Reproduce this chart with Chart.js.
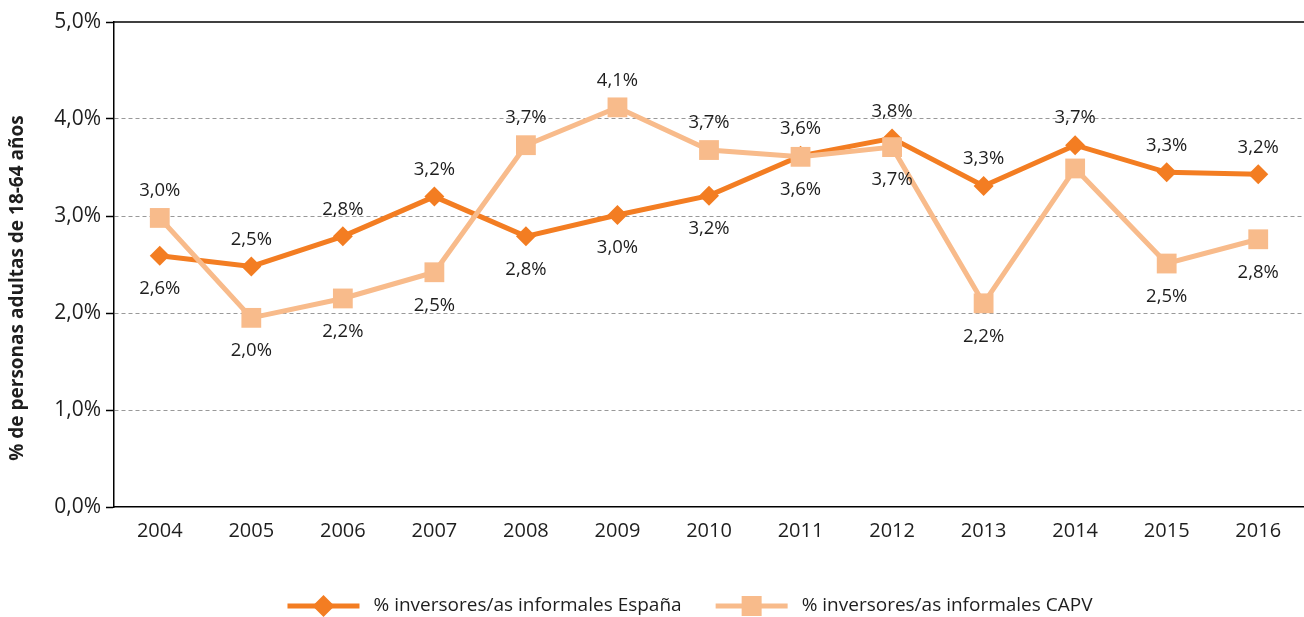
<!DOCTYPE html>
<html>
<head>
<meta charset="utf-8">
<script src="https://cdn.jsdelivr.net/npm/chart.js@4/dist/chart.umd.min.js"></script>
<style>
  html, body { margin: 0; padding: 0; background: #fff; overflow: hidden; }
  #wrap { width: 1304px; height: 617px; position: relative; }
  canvas { display: block; }
</style>
</head>
<body>
<div id="wrap"><canvas id="chart"></canvas></div>
<script>
// Data
const years = ['2004', '2005', '2006', '2007', '2008', '2009', '2010', '2011', '2012', '2013', '2014', '2015', '2016'];
const espana = [2.59, 2.48, 2.79, 3.20, 2.79, 3.01, 3.21, 3.62, 3.80, 3.31, 3.73, 3.45, 3.43];
const capv = [2.98, 1.95, 2.15, 2.42, 3.73, 4.12, 3.68, 3.61, 3.71, 2.10, 3.49, 2.51, 2.76];
const espanaLabels = ['2,6%', '2,5%', '2,8%', '3,2%', '2,8%', '3,0%', '3,2%', '3,6%', '3,8%', '3,3%', '3,7%', '3,3%', '3,2%'];
const capvLabels = ['3,0%', '2,0%', '2,2%', '2,5%', '3,7%', '4,1%', '3,7%', '3,6%', '3,7%', '2,2%', '', '2,5%', '2,8%'];
const yTicks = [0, 1, 2, 3, 4, 5];
const seriesNames = ['% inversores/as informales España', '% inversores/as informales CAPV'];
const yTitle = '% de personas adultas de 18-64 años';

// where each value label sits relative to its point
const espanaPos = ['below', 'above', 'above', 'above', 'below', 'below', 'below', 'above', 'above', 'above', 'above', 'above', 'above'];
const capvPos = ['above', 'below', 'below', 'below', 'above', 'above', 'above', 'below', 'below', 'below', 'above', 'below', 'below'];

const DARK = '#F37D22';
const LIGHT = '#F8BB8B';
const FONT = '"Open Sans", "Noto Sans", sans-serif';
const TEXT = '#1e1e1e';

const fmt = v => v.toFixed(1).replace('.', ',') + '%';

// value labels above / below the markers
const valueLabels = {
  id: 'valueLabels',
  afterDatasetsDraw(chart) {
    const ctx = chart.ctx;
    ctx.save();
    ctx.font = '18.5px ' + FONT;
    ctx.fillStyle = TEXT;
    ctx.textAlign = 'center';
    ctx.textBaseline = 'middle';
    chart.data.datasets.forEach((ds, di) => {
      const meta = chart.getDatasetMeta(di);
      meta.data.forEach((pt, i) => {
        const txt = ds.valueLabels[i];
        if (!txt) return;
        const dy = ds.labelPos[i] === 'above' ? -27 : 33;
        ctx.fillText(txt, pt.x, pt.y + dy);
      });
    });
    ctx.restore();
  }
};

// top frame line, y title and the legend
const extras = {
  id: 'extras',
  afterDraw(chart) {
    const ctx = chart.ctx;
    const a = chart.chartArea;
    ctx.save();
    ctx.strokeStyle = '#000';
    ctx.lineWidth = 1.5;
    ctx.beginPath();
    ctx.moveTo(a.left, a.top);
    ctx.lineTo(a.right, a.top);
    ctx.stroke();

    // y axis title
    ctx.save();
    ctx.translate(18, 288);
    ctx.rotate(-Math.PI / 2);
    ctx.font = 'bold 19px ' + FONT;
    ctx.fillStyle = TEXT;
    ctx.textAlign = 'center';
    ctx.textBaseline = 'middle';
    ctx.fillText(yTitle, 0, 0);
    ctx.restore();

    // legend
    ctx.font = '19px ' + FONT;
    const iconW = 72, gapText = 14, gapItem = 34;
    const w0 = ctx.measureText(seriesNames[0]).width;
    const w1 = ctx.measureText(seriesNames[1]).width;
    const total = iconW * 2 + gapText * 2 + gapItem + w0 + w1;
    let x = 690 - total / 2;
    const y = 606;
    chart.data.datasets.forEach((ds, di) => {
      ctx.strokeStyle = ds.borderColor;
      ctx.fillStyle = ds.borderColor;
      ctx.lineWidth = 5;
      ctx.beginPath();
      ctx.moveTo(x, y);
      ctx.lineTo(x + iconW, y);
      ctx.stroke();
      const cx = x + iconW / 2;
      ctx.beginPath();
      if (ds.pointStyle === 'rectRot') {
        ctx.moveTo(cx - 11, y);
        ctx.lineTo(cx, y - 11);
        ctx.lineTo(cx + 11, y);
        ctx.lineTo(cx, y + 11);
        ctx.closePath();
      } else {
        ctx.rect(cx - 10, y - 10, 20, 20);
      }
      ctx.fill();
      x += iconW + gapText;
      ctx.fillStyle = TEXT;
      ctx.textAlign = 'left';
      ctx.textBaseline = 'middle';
      ctx.fillText(ds.label, x, y);
      x += (di === 0 ? w0 : w1) + gapItem;
    });
    ctx.restore();
  }
};

const ctx = document.getElementById('chart').getContext('2d');
const chart = new Chart(ctx, {
  type: 'line',
  data: {
    labels: years,
    datasets: [
      {
        label: seriesNames[0],
        data: espana,
        valueLabels: espanaLabels,
        labelPos: espanaPos,
        borderColor: DARK,
        backgroundColor: DARK,
        borderWidth: 5,
        pointStyle: 'rectRot',
        pointRadius: 10,
        pointBorderWidth: 0,
        pointBackgroundColor: DARK,
        order: 1
      },
      {
        label: seriesNames[1],
        data: capv,
        valueLabels: capvLabels,
        labelPos: capvPos,
        borderColor: LIGHT,
        backgroundColor: LIGHT,
        borderWidth: 5,
        pointStyle: 'rect',
        pointRadius: 14,
        pointBorderWidth: 0,
        pointBackgroundColor: LIGHT,
        order: 0
      }
    ]
  },
  options: {
    responsive: true,
    maintainAspectRatio: false,
    animation: false,
    // the source plot runs slightly past the right edge of the picture
    layout: { autoPadding: false, padding: { left: 0, right: -14, top: 22, bottom: 62 } },
    plugins: {
      legend: { display: false },
      tooltip: { enabled: false }
    },
    scales: {
      x: {
        offset: true,
        afterFit(s) { s.paddingLeft = 0; s.paddingRight = 0; },
        grid: { display: false, drawTicks: false },
        border: { color: '#000', width: 1.5 },
        ticks: { color: TEXT, font: { family: FONT, size: 20 }, padding: 12, maxRotation: 0 }
      },
      y: {
        min: 0,
        max: 5,
        afterFit(s) { s.width = 114; s.paddingTop = 0; s.paddingBottom = 0; },
        afterBuildTicks(s) { s.ticks = yTicks.map(v => ({ value: v })); },
        grid: {
          color: c => (c.tick && (c.tick.value === 0 || c.tick.value === 5)) ? 'rgba(0,0,0,0)' : '#999',
          lineWidth: 1,
          tickColor: '#000',
          tickLength: 8,
          tickWidth: 1.5
        },
        border: { color: '#000', width: 1.5, dash: [4, 3] },
        ticks: {
          color: TEXT,
          font: { family: FONT, size: 21 },
          padding: 5,
          callback: v => fmt(v)
        }
      }
    }
  },
  plugins: [valueLabels, extras]
});
</script>
</body>
</html>
